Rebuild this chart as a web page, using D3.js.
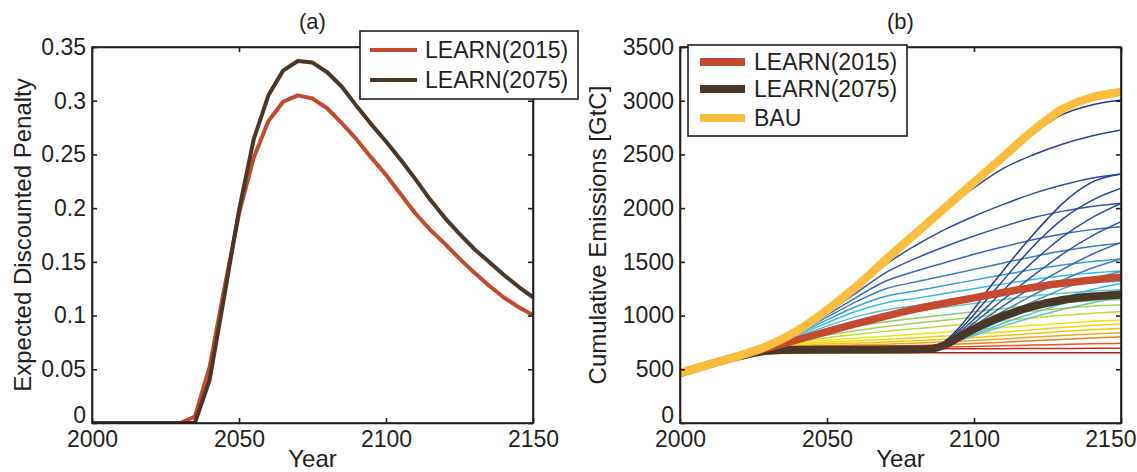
<!DOCTYPE html>
<html>
<head>
<meta charset="utf-8">
<script src="https://cdn.jsdelivr.net/npm/d3@7"></script>
<style>
  body { margin: 0; background: #fff; }
  svg text { font-family: "Liberation Sans", Arial, sans-serif; fill: #231f20; }
</style>
</head>
<body>
<script>
// ---------- data ----------
// panel (a): expected discounted penalty
var yearsA = [2000, 2005, 2010, 2015, 2020, 2025, 2030, 2035, 2040, 2045, 2050, 2055, 2060, 2065, 2070,
              2075, 2080, 2085, 2090, 2095, 2100, 2105, 2110, 2115, 2120, 2125, 2130, 2135, 2140, 2145, 2150];
var penalty2015 = [0, 0, 0, 0, 0, 0, 0, 0.006, 0.052, 0.125, 0.195, 0.247, 0.281, 0.299, 0.305,
                   0.302, 0.293, 0.279, 0.264, 0.247, 0.231, 0.213, 0.195, 0.18, 0.167, 0.153, 0.14, 0.128, 0.117, 0.108, 0.1005];
var penalty2075 = [0, 0, 0, 0, 0, 0, 0, 0, 0.04, 0.118, 0.198, 0.264, 0.305, 0.328, 0.337,
                   0.3355, 0.3265, 0.313, 0.295, 0.278, 0.262, 0.245, 0.227, 0.208, 0.191, 0.176, 0.162, 0.15, 0.138, 0.127, 0.117];

// panel (b): cumulative emissions [GtC]
var yearsB = [2000, 2010, 2020, 2030, 2040, 2050, 2060, 2070, 2080, 2090, 2100, 2110, 2120, 2130, 2140, 2150];
var bau = [465, 545, 625, 720, 860, 1050, 1270, 1520, 1760, 2000, 2240, 2480, 2720, 2920, 3030, 3082];
var learn2015 = [465, 545, 625, 700, 775, 850, 925, 995, 1060, 1115, 1165, 1215, 1262, 1300, 1332, 1358];
var yearsBrown = [2000, 2010, 2020, 2030, 2040, 2060, 2080, 2085, 2090, 2095, 2100, 2105, 2110, 2120, 2130, 2140, 2150];
var learn2075 = [465, 545, 620, 672, 683, 685, 686, 690, 725, 800, 875, 940, 995, 1085, 1145, 1178, 1195];

// thin lines, one per climate-sensitivity outcome, learning in 2015 (on yearsB)
var pathsEarly = [
  [465, 545, 625, 720, 860, 1050, 1270, 1520, 1760, 2000, 2238, 2470, 2690, 2870, 2960, 3007],
  [465, 545, 625, 720, 859, 1048, 1266, 1512, 1748, 1985, 2190, 2370, 2495, 2595, 2672, 2727],
  [465, 545, 625, 719, 856, 1040, 1245, 1475, 1650, 1800, 1925, 2035, 2135, 2215, 2278, 2318],
  [465, 545, 625, 718, 851, 1026, 1212, 1400, 1530, 1640, 1740, 1830, 1910, 1970, 2015, 2045],
  [465, 545, 624, 716, 845, 1006, 1170, 1322, 1412, 1492, 1570, 1640, 1705, 1760, 1800, 1827],
  [465, 545, 624, 714, 837, 985, 1130, 1250, 1312, 1370, 1430, 1490, 1548, 1600, 1642, 1673],
  [465, 545, 623, 712, 828, 960, 1085, 1180, 1228, 1280, 1330, 1380, 1428, 1470, 1503, 1527],
  [465, 545, 623, 710, 816, 932, 1040, 1118, 1160, 1205, 1250, 1295, 1335, 1370, 1396, 1415],
  [465, 545, 622, 707, 804, 902, 990, 1052, 1092, 1132, 1172, 1212, 1252, 1284, 1306, 1320],
  [465, 545, 622, 704, 792, 875, 948, 1000, 1040, 1077, 1112, 1148, 1182, 1208, 1227, 1240],
  [465, 545, 621, 701, 778, 844, 900, 942, 976, 1006, 1036, 1066, 1096, 1120, 1138, 1150],
  [465, 545, 621, 698, 765, 818, 860, 898, 928, 956, 984, 1013, 1042, 1068, 1087, 1100],
  [465, 545, 620, 695, 752, 793, 825, 853, 878, 902, 927, 952, 978, 1003, 1021, 1036],
  [465, 545, 620, 692, 740, 770, 790, 808, 827, 847, 867, 888, 909, 929, 946, 959],
  [465, 545, 619, 689, 729, 752, 765, 778, 793, 810, 828, 848, 868, 889, 907, 922],
  [465, 545, 619, 686, 719, 736, 745, 754, 766, 780, 796, 814, 832, 851, 867, 881],
  [465, 545, 618, 683, 709, 721, 728, 734, 743, 755, 768, 783, 799, 814, 828, 840],
  [465, 545, 618, 680, 700, 707, 712, 716, 722, 730, 740, 752, 765, 778, 791, 803],
  [465, 545, 617, 676, 692, 696, 698, 700, 703, 707, 712, 718, 725, 731, 737, 742],
  [465, 545, 617, 672, 684, 686, 687, 688, 689, 690, 691, 692, 693, 694, 695, 695],
  [465, 545, 612, 648, 654, 655, 655, 655, 655, 655, 655, 655, 655, 655, 655, 655]
];

// thin lines, learning in 2075 (on yearsLate)
var yearsLate = [2080, 2085, 2090, 2095, 2100, 2105, 2110, 2115, 2120, 2125, 2130, 2140, 2150];
var pathsLate = [
  [686, 690, 760, 890, 1060, 1250, 1420, 1590, 1750, 1900, 2040, 2240, 2318],
  [686, 690, 752, 865, 1010, 1170, 1330, 1490, 1640, 1775, 1895, 2070, 2185],
  [686, 690, 746, 845, 965, 1095, 1235, 1370, 1500, 1620, 1730, 1910, 2045],
  [686, 690, 741, 828, 932, 1042, 1152, 1262, 1370, 1470, 1570, 1740, 1874],
  [686, 690, 736, 812, 902, 996, 1090, 1180, 1268, 1350, 1428, 1568, 1680],
  [686, 690, 732, 800, 880, 960, 1040, 1115, 1190, 1260, 1328, 1440, 1527],
  [686, 690, 728, 790, 860, 930, 1000, 1065, 1128, 1188, 1248, 1340, 1410],
  [686, 690, 725, 780, 840, 900, 958, 1013, 1067, 1117, 1163, 1240, 1300],
  [686, 690, 722, 772, 825, 878, 929, 977, 1023, 1067, 1108, 1180, 1238],
  [686, 690, 720, 765, 812, 858, 903, 945, 985, 1022, 1057, 1118, 1168]
];

var ticksX = [2000, 2050, 2100, 2150];
var ticksPenalty = [0, 0.05, 0.1, 0.15, 0.2, 0.25, 0.3, 0.35];
var ticksEmissions = [0, 500, 1000, 1500, 2000, 2500, 3000, 3500];
var legendA = ["LEARN(2015)", "LEARN(2075)"];
var legendB = ["LEARN(2015)", "LEARN(2075)", "BAU"];

// ---------- drawing ----------
var w = 1137, h = 472;
var plotTop = 47, plotBottom = 423;
var colRed = "#c4492f", colBrown = "#4a3727", colYellow = "#fbbd3c", colAxis = "#231f20";

// jet-like colormap over the outcome index
var jet = d3.scaleLinear()
    .domain([0, 3, 5, 7, 9, 10, 12, 13, 15, 16, 17, 18, 19, 20])
    .range(["#2a3990", "#3152a6", "#3d7cc2", "#2fbde8", "#6cc5b8", "#8fcb6a", "#c2d93a",
            "#ede518", "#f7c20f", "#f6a21c", "#f07c22", "#ea5620", "#d32a22", "#b2191c"]);

var svg = d3.select("body").append("svg")
    .attr("width", w)
    .attr("height", h);

function makePanel(left, right, yMax, id) {
    var x = d3.scaleLinear().domain([2000, 2150]).range([left, right]);
    var y = d3.scaleLinear().domain([0, yMax]).range([plotBottom, plotTop]);
    svg.append("clipPath").attr("id", id)
        .append("rect")
        .attr("x", left).attr("y", plotTop)
        .attr("width", right - left).attr("height", plotBottom - plotTop);
    var g = svg.append("g").attr("clip-path", "url(#" + id + ")");
    return { x: x, y: y, g: g, left: left, right: right };
}

function drawAxes(p, yTicks, yFmt, title, yTitle, titleX) {
    var ax = svg.append("g");
    var xl = ax.append("g").attr("transform", "translate(0," + plotBottom + ")")
        .call(d3.axisBottom(p.x).tickValues(ticksX).tickFormat(d3.format("d"))
            .tickSizeInner(-5).tickSizeOuter(0).tickPadding(8));
    ax.append("g").attr("transform", "translate(0," + plotTop + ")")
        .call(d3.axisTop(p.x).tickValues(ticksX).tickFormat("")
            .tickSizeInner(-5).tickSizeOuter(0));
    var yl = ax.append("g").attr("transform", "translate(" + p.left + ",0)")
        .call(d3.axisLeft(p.y).tickValues(yTicks).tickFormat(yFmt)
            .tickSizeInner(-5).tickSizeOuter(0).tickPadding(6));
    ax.append("g").attr("transform", "translate(" + p.right + ",0)")
        .call(d3.axisRight(p.y).tickValues(yTicks).tickFormat("")
            .tickSizeInner(-5).tickSizeOuter(0));
    // bottom label sits a bit higher, as in the original
    yl.selectAll(".tick text").filter(function(d) { return d === 0; })
        .attr("y", -8);
    // keep the last year label inside the page
    xl.selectAll(".tick text").filter(function(d) { return p.x(d) + 26 > w; })
        .attr("text-anchor", "end").attr("x", w - 1 - p.x(2150));
    ax.selectAll("path.domain, .tick line")
        .attr("stroke", colAxis).attr("stroke-width", 1.6);
    ax.selectAll(".tick text")
        .style("font-size", "23px")
        .attr("fill", colAxis);
    ax.append("rect")
        .attr("x", p.left).attr("y", plotTop)
        .attr("width", p.right - p.left).attr("height", plotBottom - plotTop)
        .attr("fill", "none").attr("stroke", colAxis).attr("stroke-width", 1.6);

    var cx = (p.left + p.right) / 2;
    svg.append("text").attr("x", cx).attr("y", 29)
        .attr("text-anchor", "middle").style("font-size", "22px").text(title);
    svg.append("text").attr("x", cx).attr("y", 467)
        .attr("text-anchor", "middle").style("font-size", "24px").text("Year");
    svg.append("text")
        .attr("transform", "translate(" + titleX + "," + ((plotTop + plotBottom) / 2) + ") rotate(-90)")
        .attr("text-anchor", "middle").attr("dy", "0.35em")
        .style("font-size", "24px").text(yTitle);
}

function drawLegend(x0, y0, bw, bh, rows, names, colors, lw, sx0, sx1, tx) {
    var lg = svg.append("g");
    lg.append("rect").attr("x", x0).attr("y", y0).attr("width", bw).attr("height", bh)
        .attr("fill", "#fff").attr("stroke", colAxis).attr("stroke-width", 1.6);
    names.forEach(function(name, i) {
        lg.append("line").attr("x1", sx0).attr("x2", sx1)
            .attr("y1", rows[i]).attr("y2", rows[i])
            .attr("stroke", colors[i]).attr("stroke-width", lw);
        lg.append("text").attr("x", tx).attr("y", rows[i]).attr("dy", "0.36em")
            .style("font-size", "23px").text(name);
    });
}

// ----- panel (a) -----
var pa = makePanel(92, 533, 0.35, "clipA");
var lineA = d3.line()
    .x(function(d, i) { return pa.x(yearsA[i]); })
    .y(function(d) { return pa.y(d); });
pa.g.append("path").datum(penalty2015)
    .attr("d", lineA).attr("fill", "none")
    .attr("stroke", colRed).attr("stroke-width", 4).attr("stroke-linejoin", "round");
pa.g.append("path").datum(penalty2075)
    .attr("d", lineA).attr("fill", "none")
    .attr("stroke", colBrown).attr("stroke-width", 4).attr("stroke-linejoin", "round");
drawAxes(pa, ticksPenalty, function(d) { return d === 0 ? "0" : String(d); },
         "(a)", "Expected Discounted Penalty", 23);
drawLegend(360, 31, 218, 68, [50, 80], legendA, [colRed, colBrown], 4, 370, 417, 425);

// ----- panel (b) -----
var pb = makePanel(680, 1121, 3500, "clipB");
function lineOn(years) {
    return d3.line()
        .x(function(d, i) { return pb.x(years[i]); })
        .y(function(d) { return pb.y(d); })
        .curve(d3.curveMonotoneX);
}
pb.g.selectAll(".early").data(pathsEarly).enter()
    .append("path").attr("class", "early")
    .attr("d", lineOn(yearsB)).attr("fill", "none")
    .attr("stroke", function(d, i) { return jet(i); })
    .attr("stroke-width", 1.5);
pb.g.selectAll(".late").data(pathsLate).enter()
    .append("path").attr("class", "late")
    .attr("d", lineOn(yearsLate)).attr("fill", "none")
    .attr("stroke", function(d, i) { return jet(i); })
    .attr("stroke-width", 1.5);
pb.g.append("path").datum(learn2075)
    .attr("d", lineOn(yearsBrown)).attr("fill", "none")
    .attr("stroke", colBrown).attr("stroke-width", 8);
pb.g.append("path").datum(learn2015)
    .attr("d", lineOn(yearsB)).attr("fill", "none")
    .attr("stroke", colRed).attr("stroke-width", 7.5);
pb.g.append("path").datum(bau)
    .attr("d", lineOn(yearsB)).attr("fill", "none")
    .attr("stroke", colYellow).attr("stroke-width", 8.5);
drawAxes(pb, ticksEmissions, d3.format("d"), "(b)", "Cumulative Emissions [GtC]", 598);
drawLegend(688, 45, 219, 91, [62, 89, 118], legendB, [colRed, colBrown, colYellow], 8, 700, 745, 754);
</script>
</body>
</html>
